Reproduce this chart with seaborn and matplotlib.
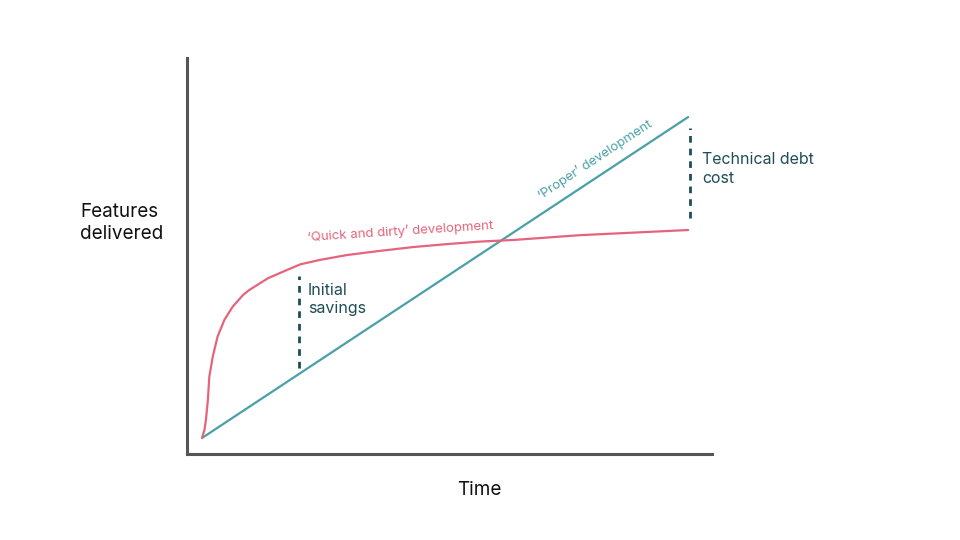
import matplotlib
matplotlib.use("Agg")
import matplotlib.pyplot as plt
import seaborn as sns

# ---- data ----
proper_t = [0.0, 10.0]
proper_y = [0.0, 10.0]

quick_t = [0.0, 0.01, 0.05, 0.08, 0.12, 0.15, 0.22, 0.32, 0.46, 0.63, 0.84,
           0.97, 1.36, 1.71, 2.02, 2.43, 2.98, 3.66, 4.35, 5.03, 5.72, 6.41,
           7.78, 10.0]
quick_y = [0.0, 0.05, 0.25, 0.56, 1.18, 1.91, 2.53, 3.16, 3.68, 4.09, 4.45,
           4.61, 4.98, 5.21, 5.41, 5.55, 5.70, 5.83, 5.95, 6.04, 6.12, 6.17,
           6.32, 6.48]

savings_t = [2.0, 2.0]
savings_y = [2.18, 5.05]
debt_t = [10.04, 10.04]
debt_y = [6.85, 9.66]

label_quick = "\u2018Quick and dirty\u2019 development"
label_proper = "\u2018Proper\u2019 development"
label_savings = "Initial\nsavings"
label_debt = "Technical debt\ncost"
label_x = "Time"
label_y = "Features\ndelivered"

# ---- style ----
sns.set_style("white")
plt.rcParams['font.family'] = ['Inter', 'DejaVu Sans']

PINK = "#E5647C"
TEAL = "#4AA0A8"
DARK = "#1E4D58"
AXIS = "#555555"

fig = plt.figure(figsize=(9.6, 5.4), dpi=100)
ax = fig.add_axes([187/960, 1-453.5/540, (712-187)/960, (453.5-58.3)/540])

line_kw = dict(ax=ax, sort=False, estimator=None)
sns.lineplot(x=proper_t, y=proper_y, color=TEAL, linewidth=1.6, **line_kw)
sns.lineplot(x=quick_t, y=quick_y, color=PINK, linewidth=1.6, **line_kw)
sns.lineplot(x=savings_t, y=savings_y, color=DARK, linewidth=2.0,
             linestyle=(0, (2.4, 2.15)), **line_kw)
sns.lineplot(x=debt_t, y=debt_y, color=DARK, linewidth=2.0,
             linestyle=(0, (2.4, 2.15)), **line_kw)

ax.set_xlim(-0.309, 10.49)
ax.set_ylim(-0.483, 11.83)
ax.set_xticks([])
ax.set_yticks([])
for s in ["top", "right"]:
    ax.spines[s].set_visible(False)
for s in ["left", "bottom"]:
    ax.spines[s].set_color(AXIS)
    ax.spines[s].set_linewidth(2.2)

ax.text(4.09, 6.42, label_quick, color=PINK, fontsize=9.5, rotation=3.7,
        ha="center", va="center", rotation_mode="anchor")
ax.text(8.09, 8.66, label_proper, color=TEAL, fontsize=9.5, rotation=33.4,
        ha="center", va="center", rotation_mode="anchor")

ax.text(308/960, 1-313.3/540, label_savings, transform=fig.transFigure, color=DARK,
        fontsize=11.5, ha="left", va="baseline", linespacing=1.31)
ax.text(702/960, 1-182.7/540, label_debt, transform=fig.transFigure, color=DARK,
        fontsize=11.5, ha="left", va="baseline", linespacing=1.31)

fig.text(80/960, 1-239.3/540, label_y, color="#111111", fontsize=13.6, ha="left",
         va="baseline", linespacing=1.3)
fig.text(479/960, 1-495/540, label_x, color="#111111", fontsize=13.6, ha="center",
         va="baseline")

fig.savefig("out.png", dpi=100, facecolor="white")
